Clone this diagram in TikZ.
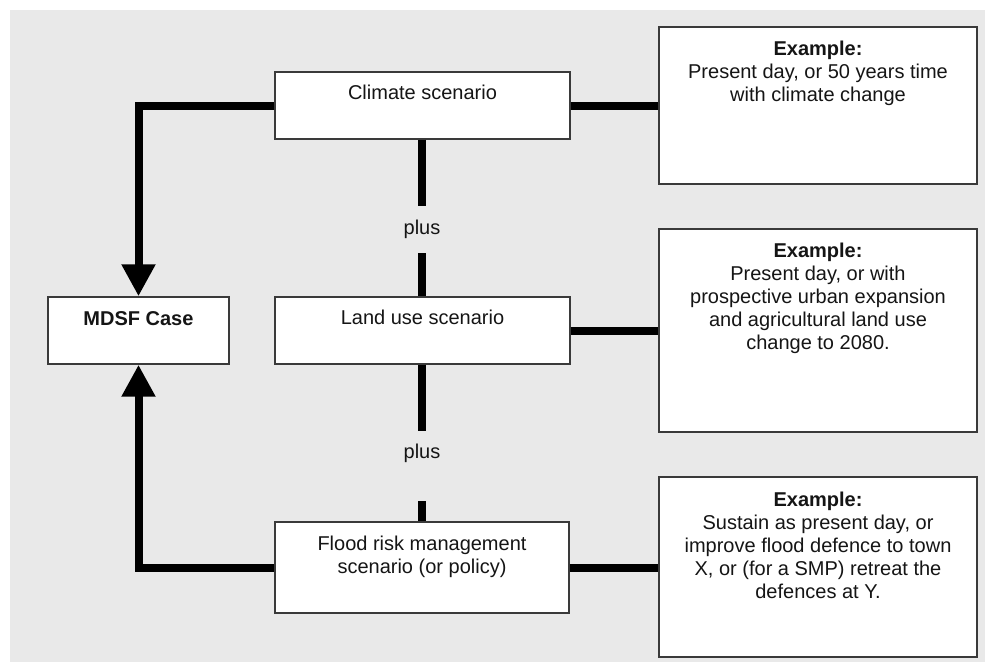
\documentclass[tikz,border=0pt]{standalone}
\usepackage{fontspec}
\setmainfont{Liberation Sans}
\usetikzlibrary{arrows.meta}
\definecolor{panel}{HTML}{E9E9E9}
\definecolor{frame}{HTML}{3A3A3A}
\definecolor{ink}{HTML}{151515}
\begin{document}
\begin{tikzpicture}[x=1pt,y=-1pt,
  box/.style={draw=frame, line width=1.4pt, fill=white, inner sep=0pt},
  boxtext/.style={anchor=north, inner sep=0pt, align=center, text=ink,
    font=\fontsize{20}{23}\selectfont},
  plustext/.style={inner sep=0pt, text=ink, font=\fontsize{20}{23}\selectfont},
  link/.style={line width=8pt, line join=miter, draw=black},
  feed/.style={link, -{Triangle[width=32pt,length=32pt]}}]

  % page and grey panel
  \useasboundingbox (0,0) rectangle (985,662);
  \fill[panel] (10,10) rectangle (985,662);

  % scenario boxes
  \node[box, minimum width=295pt, minimum height=67pt] (clim) at (422.5,105.5) {};
  \node[box, minimum width=295pt, minimum height=67pt] (land) at (422.5,330.5) {};
  \node[box, minimum width=294pt, minimum height=91pt] (flood) at (422,567.5) {};
  \node[box, minimum width=181pt, minimum height=67pt] (mdsf) at (138.5,330.5) {};

  % example boxes
  \node[box, minimum width=318pt, minimum height=157pt] (ex1) at (818,105.5) {};
  \node[box, minimum width=318pt, minimum height=203pt] (ex2) at (818,330.5) {};
  \node[box, minimum width=318pt, minimum height=180pt] (ex3) at (818,567) {};

  % box texts
  \node[boxtext] (clim-t) at ([yshift=-14pt]clim.north) {Climate scenario};
  \node[boxtext] (land-t) at ([yshift=-14pt]land.north) {Land use scenario};
  \node[boxtext] (flood-t) at ([yshift=-14pt]flood.north) {Flood risk management\\scenario (or policy)};
  \node[boxtext] (mdsf-t) at ([yshift=-15pt]mdsf.north) {\bfseries MDSF Case};
  \node[boxtext] (ex1-t) at ([yshift=-14.5pt]ex1.north)
    {\bfseries Example:\\Present day, or 50 years time\\with climate change};
  \node[boxtext] (ex2-t) at ([yshift=-15pt]ex2.north)
    {\bfseries Example:\\Present day, or with\\prospective urban expansion\\and agricultural land use\\change to 2080.};
  \node[boxtext] (ex3-t) at ([yshift=-15pt]ex3.north)
    {\bfseries Example:\\Sustain as present day, or\\improve flood defence to town\\X, or (for a SMP) retreat the\\defences at Y.};

  % "plus" labels and the gaps around them
  \node[plustext] (plus1) at (422,229) {plus};
  \node[plustext] (plus2) at (422,453) {plus};
  \coordinate (gap1a) at (422,206);
  \coordinate (gap1b) at (422,253);
  \coordinate (gap2a) at (422,431);
  \coordinate (gap2b) at (422,501);

  % vertical links between scenarios
  \draw[link] (clim.south -| gap1a) -- (gap1a);
  \draw[link] (gap1b) -- (land.north -| gap1b);
  \draw[link] (land.south -| gap2a) -- (gap2a);
  \draw[link] (gap2b) -- (flood.north -| gap2b);

  % links to the examples
  \draw[link] (clim.east) -- (ex1.west |- clim.east);
  \draw[link] (land.east) -- (ex2.west |- land.east);
  \draw[link] (flood.east) -- (ex3.west |- flood.east);

  % feeds into the MDSF case
  \draw[feed] (clim.west) -| (mdsf.north);
  \draw[feed] (flood.west) -| (mdsf.south);
\end{tikzpicture}
\end{document}
